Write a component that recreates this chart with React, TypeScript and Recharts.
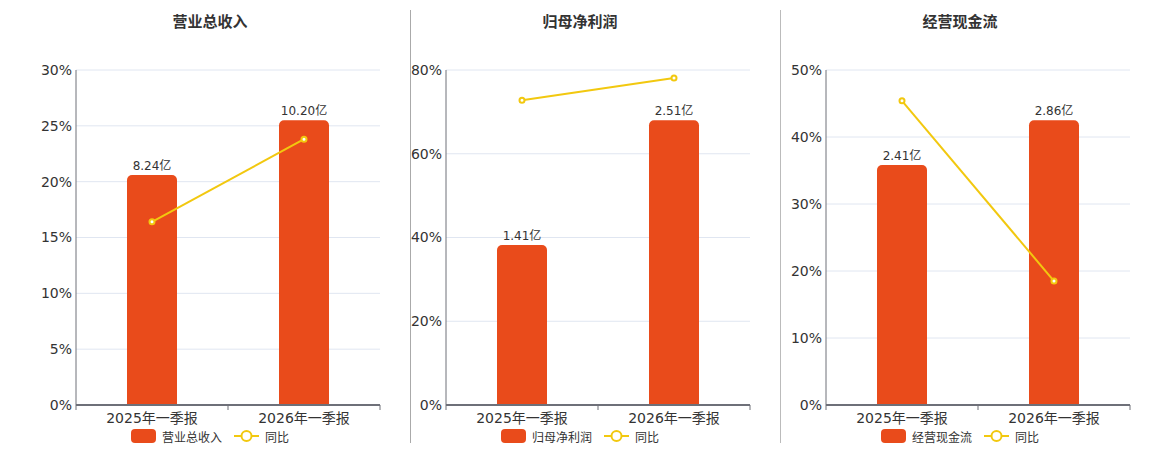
import { ComposedChart, Bar, Line, XAxis, YAxis, CartesianGrid, Legend, LabelList } from 'recharts';

const periods = ['2025年一季报', '2026年一季报'];

const revenue = [8.24, 10.2];
const revenueYoy = [16.4, 23.8];
const revenueTicks = [0, 5, 10, 15, 20, 25, 30];

const netProfit = [1.41, 2.51];
const netProfitYoy = [72.8, 78.1];
const netProfitTicks = [0, 20, 40, 60, 80];

const cashFlow = [2.41, 2.86];
const cashFlowYoy = [45.4, 18.5];
const cashFlowTicks = [0, 10, 20, 30, 40, 50];

const BAR = '#E94B1B';
const LINE = '#F2C80F';
const AXIS = '#6E7079';
const GRID = '#E0E6F1';
const TEXT = '#333';
const FONT = '"DejaVu Sans", "Noto Sans CJK SC", sans-serif';

const CHART_H = 450;
const Y_W = 76;
const PLOT_W = 304;
const RIGHT = 10;

function PeriodTick(props: any) {
  const { x, y, payload, index } = props;
  const half = PLOT_W / periods.length / 2;
  const axisY = y - 8;
  return (
    <g>
      {index === 0 && <line x1={x - half} x2={x - half} y1={axisY} y2={axisY + 5} stroke={AXIS} />}
      <line x1={x + half} x2={x + half} y1={axisY} y2={axisY + 5} stroke={AXIS} />
      <text x={x} y={y} dy="0.71em" textAnchor="middle" fill={TEXT} fontSize={14}>
        {payload.value}
      </text>
    </g>
  );
}

function LegendBox({ payload }: any) {
  // bar entry first, then the line
  const items = [...(payload || [])].sort((a: any, b: any) => (a.type === 'line' ? 1 : 0) - (b.type === 'line' ? 1 : 0));
  return (
    <div style={{ height: 18, display: 'flex', justifyContent: 'center', alignItems: 'center', fontSize: 12, color: TEXT }}>
      {items.map((p: any, i: number) => (
        <div key={i} style={{ display: 'flex', alignItems: 'center', marginLeft: i ? 12 : 0 }}>
          {p.type === 'line' ? (
            <svg width={25} height={14} style={{ marginRight: 6 }}>
              <line x1={0} x2={25} y1={7} y2={7} stroke={LINE} strokeWidth={2} />
              <circle cx={12.5} cy={7} r={5} fill="#fff" stroke={LINE} strokeWidth={2} />
            </svg>
          ) : (
            <div style={{ width: 25, height: 14, borderRadius: 4, background: BAR, marginRight: 6 }} />
          )}
          <span>{p.value}</span>
        </div>
      ))}
    </div>
  );
}

interface PanelProps {
  title: string;
  name: string;
  values: number[];
  yoy: number[];
  ticks: number[];
  plotLeft: number;
  center: number;
}

function Panel({ title, name, values, yoy, ticks, plotLeft, center }: PanelProps) {
  const data = periods.map((p, i) => ({ period: p, value: values[i], yoy: yoy[i] }));
  const left = plotLeft - Y_W;
  const barMax = Math.max(...values) / 0.85;
  return (
    <>
      <div
        style={{
          position: 'absolute',
          left: center - 100,
          width: 200,
          top: 11,
          textAlign: 'center',
          fontSize: 15,
          fontWeight: 'bold',
          color: TEXT,
          lineHeight: '22px',
        }}
      >
        {title}
      </div>
      <div style={{ position: 'absolute', left, top: 0 }}>
        <ComposedChart
          width={Y_W + PLOT_W + RIGHT}
          height={CHART_H}
          data={data}
          margin={{ top: 70, right: RIGHT, bottom: 5, left: 0 }}
          style={{ fontFamily: FONT }}
        >
          <CartesianGrid vertical={false} stroke={GRID} yAxisId="pct" />
          <XAxis
            dataKey="period"
            height={22}
            axisLine={{ stroke: AXIS, strokeWidth: 2 }}
            tickLine={false}
            tick={<PeriodTick />}
            interval={0}
          />
          <YAxis
            yAxisId="pct"
            width={Y_W}
            domain={[ticks[0], ticks[ticks.length - 1]]}
            ticks={ticks}
            tickFormatter={(v) => `${v}%`}
            axisLine={{ stroke: AXIS }}
            tickLine={false}
            tickSize={0}
            tickMargin={4}
            tick={{ fill: TEXT, fontSize: 14 }}
          />
          <YAxis yAxisId="bar" orientation="right" width={0} hide domain={[0, barMax]} />
          <Bar yAxisId="bar" dataKey="value" name={name} fill={BAR} barSize={50} radius={[5, 5, 0, 0]} isAnimationActive={false}>
            <LabelList
              dataKey="value"
              position="top"
              offset={5}
              fill={TEXT}
              fontSize={12}
              formatter={(v: any) => `${Number(v).toFixed(2)}亿`}
            />
          </Bar>
          <Line
            yAxisId="pct"
            dataKey="yoy"
            name="同比"
            stroke={LINE}
            strokeWidth={2}
            dot={{ r: 2.5, fill: '#fff', stroke: LINE, strokeWidth: 2 }}
            activeDot={false}
            isAnimationActive={false}
          />
          <Legend
            content={<LegendBox />}
            wrapperStyle={{ left: center - left - 150, width: 300 }}
          />
        </ComposedChart>
      </div>
    </>
  );
}

export default function App() {
  return (
    <div style={{ position: 'absolute', left: 0, top: 0, width: 1160, height: 450, background: '#fff', fontFamily: FONT }}>
      <div style={{ position: 'absolute', left: 410, top: 10, width: 1, height: 433, background: '#aaa' }} />
      <div style={{ position: 'absolute', left: 780, top: 10, width: 1, height: 433, background: '#bbb' }} />
      <Panel title="营业总收入" name="营业总收入" values={revenue} yoy={revenueYoy} ticks={revenueTicks} plotLeft={76} center={210} />
      <Panel title="归母净利润" name="归母净利润" values={netProfit} yoy={netProfitYoy} ticks={netProfitTicks} plotLeft={446} center={580} />
      <Panel title="经营现金流" name="经营现金流" values={cashFlow} yoy={cashFlowYoy} ticks={cashFlowTicks} plotLeft={826} center={960} />
    </div>
  );
}
